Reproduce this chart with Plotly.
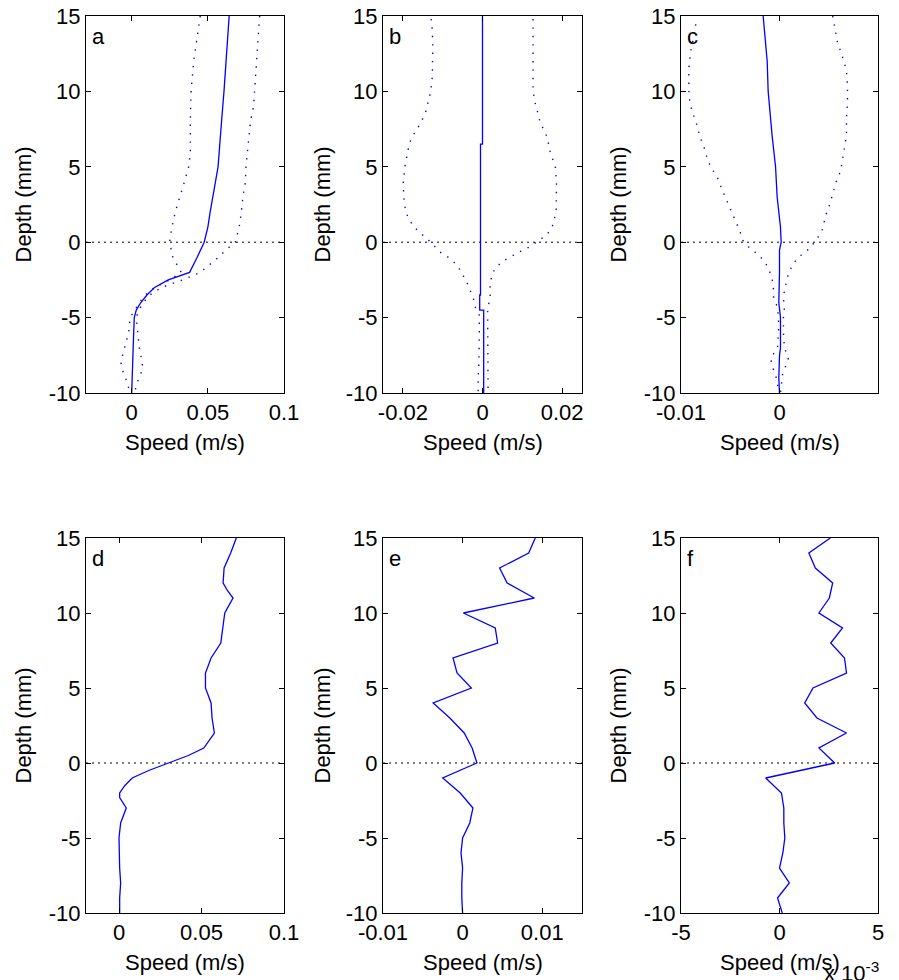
import plotly.graph_objects as go

# ---------------- data ----------------
# Panel a
a_mean_depth = [15, 13.4, 12, 10, 8, 6, 5, 4, 3, 2, 1, 0, -1, -2, -2.5, -3, -3.5, -4, -4.5, -5, -6, -7, -8, -9, -10]
a_mean_speed = [0.064, 0.063, 0.062, 0.0606, 0.059, 0.0574, 0.0567, 0.055, 0.053, 0.0515, 0.050, 0.0476, 0.043, 0.038,
                0.024, 0.015, 0.010, 0.006, 0.003, 0.0017, 0.0013, 0.001, 0.0007, 0.0004, 0.0]
a_low_depth = [15, 13, 12, 10, 8, 6, 5, 4, 3, 2, 1, 0, -1, -2, -2.5, -3, -3.5, -4, -4.5, -5, -6, -7, -7.5, -8, -8.5, -9, -9.5, -10]
a_low_speed = [0.045, 0.0424, 0.0407, 0.039, 0.0385, 0.0385, 0.0374, 0.0346, 0.0314, 0.0286, 0.0264, 0.0249, 0.027, 0.0325,
               0.025, 0.015, 0.009, 0.005, 0.002, -0.001, -0.002, -0.0048, -0.006, -0.007, -0.006, -0.004, -0.0026, -0.001]
a_up_depth = [15, 13, 12, 10, 9, 8, 6, 5, 4, 3, 2, 1, 0, -0.5, -1, -1.5, -2, -2.5, -3, -3.5, -4, -4.5, -5, -6, -7, -8, -8.5, -9, -9.5, -10]
a_up_speed = [0.084, 0.0827, 0.0822, 0.081, 0.080, 0.078, 0.076, 0.075, 0.0747, 0.073, 0.072, 0.0706, 0.068, 0.062, 0.057,
              0.051, 0.045, 0.0335, 0.0195, 0.012, 0.0076, 0.0048, 0.003, 0.004, 0.005, 0.007, 0.0069, 0.0048, 0.003, 0.002]

# Panel b
b_mean_depth = [15, 6.5, 6.5, -3.5, -3.5, -4.5, -4.5, -10]
b_mean_speed = [0.0, 0.0, -0.0005, -0.0005, -0.0007, -0.0007, 0.0003, 0.0003]
b_low_depth = [14.8, 14, 13, 12, 11, 10, 9, 8.5, 8, 7.5, 7, 6.5, 6, 5, 4, 3, 2, 1.5, 1, 0.5, 0, -0.65, -1, -1.5, -2.1,
               -2.6, -3.2, -3.7, -4.25, -4.85, -6, -7, -8, -9, -10]
b_low_speed = [-0.0129, -0.0126, -0.0125, -0.0125, -0.0126, -0.013, -0.0139, -0.0144, -0.0154, -0.0164, -0.0177, -0.0184,
               -0.0188, -0.0195, -0.0199, -0.0198, -0.0193, -0.0184, -0.0172, -0.0152, -0.013, -0.0107, -0.0086, -0.0064,
               -0.0052, -0.004, -0.0031, -0.0023, -0.0019, -0.0008, -0.0008, -0.0008, -0.0009, -0.0011, -0.0011]
b_up_depth = [14.8, 10, 9, 8.5, 8, 7.5, 7, 6, 5.5, 5, 4, 3, 2, 1.5, 1, 0.5, -0.3, -0.6, -0.9, -1.2, -1.6, -2.1, -2.7,
              -3.2, -3.75, -4.3, -4.85, -10]
b_up_speed = [0.0127, 0.0127, 0.0134, 0.014, 0.0144, 0.0154, 0.0162, 0.017, 0.0177, 0.0183, 0.0186, 0.0186, 0.0185,
              0.018, 0.0175, 0.0162, 0.0119, 0.0096, 0.0075, 0.0055, 0.0036, 0.0024, 0.002, 0.0018, 0.002, 0.0013,
              0.0013, 0.0014]

# Panel c
c_mean_depth = [15, 13, 12, 10, 8.5, 7, 6, 5, 3, 2, 1, 0, -0.5, -2, -4, -5, -6, -7, -7.5, -8, -9, -10]
c_mean_speed = [-0.00166, -0.00142, -0.00125, -0.00115, -0.00098, -0.00074, -0.00057, -0.0004, -0.00024, -0.00007,
                0.0001, 0.00017, 0.0, 0.0, -0.00007, 0.0001, 0.0001, 0.0001, 0.0, -0.00003, -0.00007, 0.0]
c_low_depth = [14.45, 13.9, 12.7, 11.6, 10, 9.3, 8.75, 8.2, 7.6, 7.0, 6.4, 5.9, 5.3, 4.7, 4.15, 3.6, 3.0, 2.45, 1.9,
               1.35, 0.7, 0.1, -0.4, -0.85, -1.4, -2.1, -2.6, -3.2, -3.75, -4.3, -5, -6, -7, -7.7, -8.3, -8.8, -9.4, -10]
c_low_speed = [-0.0085, -0.0086, -0.009, -0.0092, -0.0092, -0.0091, -0.0089, -0.0086, -0.0083, -0.0081, -0.0077,
               -0.0075, -0.0072, -0.0067, -0.0062, -0.0059, -0.0055, -0.0051, -0.0048, -0.0044, -0.004, -0.0037,
               -0.003, -0.0021, -0.0014, -0.0009, -0.0007, -0.0006, -0.0006, -0.0002, -0.0001, -0.0001, -0.0002,
               -0.0009, -0.0007, -0.0004, -0.0002, -0.0001]
c_up_depth = [15, 14.3, 13.2, 12.5, 11.9, 11.4, 10.4, 9.3, 8.2, 7.1, 5.9, 4.7, 4.1, 3.4, 2.3, 1.8, 0.7, -0.4, -0.85,
              -1.4, -2.1, -3.2, -3.75, -4.3, -5, -6, -7, -7.7, -8.3, -8.8, -9.4, -10]
c_up_speed = [0.0054, 0.0056, 0.0059, 0.0063, 0.0066, 0.0068, 0.0069, 0.0069, 0.0068, 0.0068, 0.0065, 0.0062, 0.0058,
              0.0055, 0.005, 0.0047, 0.0043, 0.0031, 0.0022, 0.0014, 0.0009, 0.0005, 0.0004, 0.0005, 0.0004, 0.0004,
              0.0005, 0.0009, 0.0006, 0.0003, 0.0002, 0.0001]

# Panels d, e, f (single profiles, 1 mm steps)
def_depth = [15, 14, 13, 12, 11, 10, 9, 8, 7, 6, 5, 4, 3, 2, 1, 0, -1, -2, -3, -4, -5, -6, -7, -8, -9, -10]
d_depth = [15, 14, 13, 12, 11.5, 11, 10, 9, 8, 7, 6, 5, 4, 3, 2, 1, 0.5, 0, -0.5, -1, -1.5, -2, -2.3, -3, -4, -5,
           -6, -7, -8, -9, -10]
d_speed = [0.0711, 0.0677, 0.0637, 0.0631, 0.0657, 0.0691, 0.0641, 0.0627, 0.0617, 0.0558, 0.0524, 0.0524, 0.0558,
           0.0564, 0.0578, 0.0514, 0.042, 0.030, 0.018, 0.008, 0.0036, 0.0004, 0.0004, 0.0044, 0.001, 0.0, 0.0,
           0.0004, 0.001, 0.0004, 0.0004]
e_speed = [0.00913, 0.0083, 0.00465, 0.0056, 0.009, 0.0001, 0.0041, 0.0044, -0.0012, -0.0007, 0.0011, -0.0037,
           -0.0016, 0.0002, 0.0012, 0.0018, -0.0025, -0.0003, 0.0013, 0.0009, 0.0, -0.0002, 0.0, -0.0001, -0.0001, 0.0]
f_speed = [0.00258, 0.00149, 0.00182, 0.0027, 0.00253, 0.0020, 0.0032, 0.0026, 0.0033, 0.0034, 0.0017, 0.00128,
           0.0019, 0.0034, 0.0020, 0.0028, -0.0007, 0.0001, 0.00022, 0.00022, 0.00027, 0.00017, 0.0, 0.0005,
           -0.0001, 0.00014]

# axis settings per panel: letter, x range, x tick values, x tick labels
panel_letters = ["a", "b", "c", "d", "e", "f"]
x_ranges = [[-0.03, 0.1], [-0.025, 0.025], [-0.01, 0.01], [-0.02, 0.1], [-0.01, 0.015], [-0.005, 0.005]]
x_tickvals = [[0, 0.05, 0.1], [-0.02, 0, 0.02], [-0.01, 0, 0.01], [0, 0.05, 0.1], [-0.01, 0, 0.01], [-0.005, 0, 0.005]]
x_ticktext = [["0", "0.05", "0.1"], ["-0.02", "0", "0.02"], ["-0.01", "0", "0.01"], ["0", "0.05", "0.1"],
              ["-0.01", "0", "0.01"], ["-5", "0", "5"]]
y_range = [-10, 15]
y_tickvals = [-10, -5, 0, 5, 10, 15]
y_ticktext = ["-10", "-5", "0", "5", "10", "15"]
x_title = "Speed (m/s)"
y_title = "Depth (mm)"

# ---------------- layout geometry ----------------
W, H = 899, 980
col_px = [(86, 284), (383, 582), (681, 878)]
row_px = [(16, 393), (538, 913)]
ytitle_x_px = [23, 322, 618]

BLUE = "#0000FF"
FONT = "Liberation Sans, Arial, Helvetica, sans-serif"
FS = 22

fig = go.Figure()

series = [
    [(a_mean_speed, a_mean_depth, "solid"), (a_low_speed, a_low_depth, "dot"), (a_up_speed, a_up_depth, "dot")],
    [(b_mean_speed, b_mean_depth, "solid"), (b_low_speed, b_low_depth, "dot"), (b_up_speed, b_up_depth, "dot")],
    [(c_mean_speed, c_mean_depth, "solid"), (c_low_speed, c_low_depth, "dot"), (c_up_speed, c_up_depth, "dot")],
    [(d_speed, d_depth, "solid")],
    [(e_speed, def_depth, "solid")],
    [(f_speed, def_depth, "solid")],
]

annotations = []
for i in range(6):
    r, c = divmod(i, 3)
    n = i + 1
    xa = "x" if n == 1 else f"x{n}"
    ya = "y" if n == 1 else f"y{n}"
    x0, x1 = col_px[c]
    y0, y1 = row_px[r]
    xdom = [x0 / W, x1 / W]
    ydom = [1 - y1 / H, 1 - y0 / H]
    # zero reference line
    fig.add_trace(go.Scatter(x=x_ranges[i], y=[0, 0], mode="lines", xaxis=xa, yaxis=ya,
                             line=dict(color="black", width=1, dash="2px,4px"), showlegend=False, hoverinfo="skip"))
    for sx, sy, style in series[i]:
        if style == "solid":
            line = dict(color=BLUE, width=1.3)
        else:
            line = dict(color=BLUE, width=1.4, dash="1.4px,7px")
        fig.add_trace(go.Scatter(x=sx, y=sy, mode="lines", xaxis=xa, yaxis=ya, line=line, showlegend=False))
    axis_common = dict(showline=True, mirror="ticks", linecolor="black", linewidth=1, ticks="inside",
                       ticklen=5, tickcolor="black", showgrid=False, zeroline=False, automargin=False,
                       tickfont=dict(family=FONT, size=FS, color="black"))
    fig.layout[f"xaxis{'' if n == 1 else n}"] = dict(domain=xdom, range=x_ranges[i], anchor=ya,
                                                      tickvals=x_tickvals[i], ticktext=x_ticktext[i], **axis_common)
    fig.layout[f"yaxis{'' if n == 1 else n}"] = dict(domain=ydom, range=y_range, anchor=xa,
                                                      tickvals=y_tickvals, ticktext=y_ticktext, **axis_common)
    # panel letter
    annotations.append(dict(text=panel_letters[i], xref=f"{xa} domain", yref=f"{ya} domain", x=0.02, y=0.985,
                            xanchor="left", yanchor="top", showarrow=False,
                            font=dict(family=FONT, size=FS, color="black")))
    # x title
    annotations.append(dict(text=x_title, xref="paper", yref="paper", x=(x0 + x1) / 2 / W, y=1 - (y1 + 49) / H,
                            xanchor="center", yanchor="middle", showarrow=False,
                            font=dict(family=FONT, size=FS, color="black")))
    # y title
    annotations.append(dict(text=y_title, xref="paper", yref="paper", x=ytitle_x_px[c] / W, y=1 - (y0 + y1) / 2 / H,
                            xanchor="center", yanchor="middle", textangle=-90, showarrow=False,
                            font=dict(family=FONT, size=FS, color="black")))

# exponent label for panel f
annotations.append(dict(text="x 10<sup>-3</sup>", xref="paper", yref="paper", x=851 / W, y=1 - 972 / H,
                        xanchor="center", yanchor="middle", showarrow=False,
                        font=dict(family=FONT, size=FS, color="black")))

fig.update_layout(width=W, height=H, margin=dict(l=0, r=0, t=0, b=0, autoexpand=False), paper_bgcolor="white",
                  plot_bgcolor="white", annotations=annotations, showlegend=False)

fig.write_html("out.html")
